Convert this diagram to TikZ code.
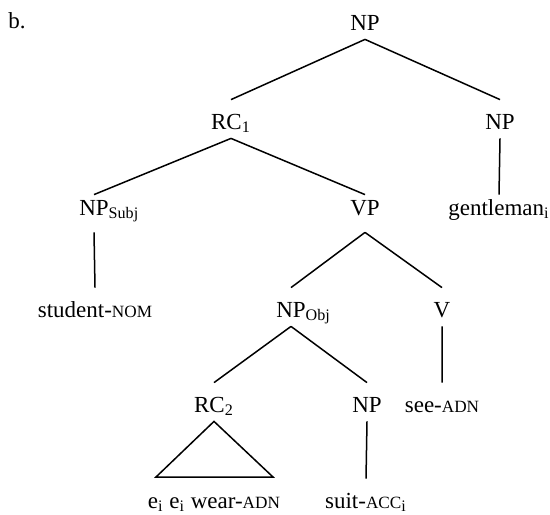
\documentclass[tikz,border=0pt]{standalone}
\usepackage{fontspec}
\setmainfont{Liberation Serif}
\usepackage{tikz}
\newcommand{\Gl}[1]{{\fontsize{8.6}{10}\selectfont #1}}

\tikzset{
  cat/.style={anchor=base, inner sep=0, inner ysep=2pt,
    text height=12.5pt, text depth=2.5pt, font=\fontsize{11.5}{14}\selectfont},
  midcat/.style={cat, text height=8pt, text depth=6.5pt},
  branch/.style={line width=0.75pt}
}

\begin{document}
\begin{tikzpicture}[x=0.5pt, y=-0.5pt]
  \useasboundingbox (0,0) rectangle (550,514);

  \node[cat, anchor=base west] (b) at (8,28) {b.};

  \node[cat] (np) at (365,30) {NP};

  \node[cat] (rc1) at (231,129) {RC\textsubscript{1}};

  \node[cat] (npR) at (500,129) {NP};

  \node[midcat] (npSubj) at (94,215) {NP\rlap{\textsubscript{Subj}}};

  \node[midcat] (vp) at (365,215) {VP};

  \node[midcat] (gent) at (499,215) {gentleman\textsubscript{i}};

  \node[cat] (student) at (95,317) {student-\Gl{NOM}};

  \node[cat] (npObj) at (291,317) {NP\rlap{\textsubscript{Obj}}};

  \node[cat] (v) at (442,317) {V};

  \node[cat] (rc2) at (214,412) {RC\textsubscript{2}};

  \node[cat] (npB) at (367,412) {NP};

  \node[cat] (see) at (442,412) {see-\Gl{ADN}};

  \node[cat] (wear) at (214,508) {e\textsubscript{i} e\textsubscript{i} wear-\Gl{ADN}};

  \node[cat] (suit) at (366,508) {suit-\Gl{ACC}\textsubscript{i}};

  \coordinate (triL) at (156,477);
  \coordinate (triR) at (273,477);

  \draw[branch]
    (np.south)     -- (rc1.north)
    (np.south)     -- (npR.north)
    (rc1.south)    -- (npSubj.north)
    (rc1.south)    -- (vp.north)
    (npR.south)    -- (gent.north)
    (npSubj.south) -- (student.north)
    (vp.south)     -- (npObj.north)
    (vp.south)     -- (v.north)
    (npObj.south)  -- (rc2.north)
    (npObj.south)  -- (npB.north)
    (v.south)      -- (see.north)
    (npB.south)    -- (suit.north);

  \draw[branch]
    (rc2.south) -- (triL) -- (triR) -- cycle;
\end{tikzpicture}
\end{document}
